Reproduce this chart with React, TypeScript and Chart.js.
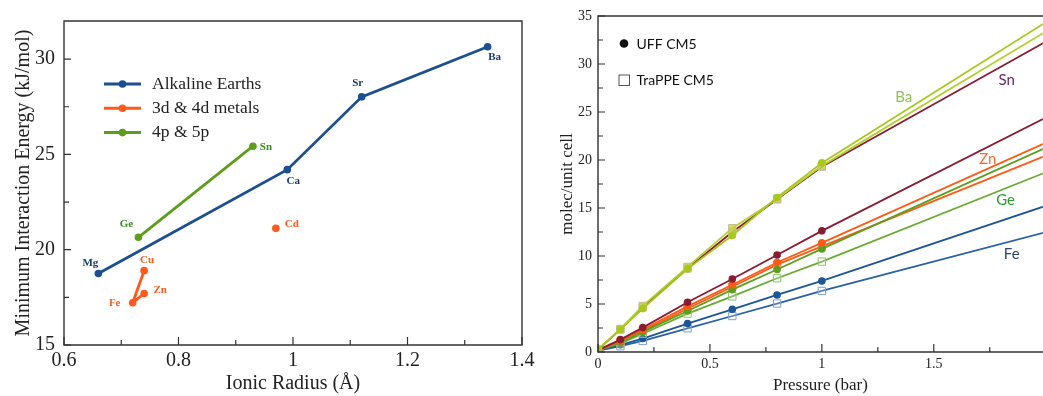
import React, { useEffect, useRef } from "react";
import { Chart, registerables } from "chart.js";
Chart.register(...registerables);

const SERIF = '"Liberation Serif", "Times New Roman", serif';
const SANS = 'Lato, "Open Sans", sans-serif';

// ---------- Left panel data ----------
const ALK_NAMES = ["Mg", "Ca", "Sr", "Ba"];
const ALK_RADIUS = [0.66, 0.99, 1.12, 1.34];
const ALK_ENERGY = [18.75, 24.2, 28.02, 30.65];

const TM_NAMES = ["Cu", "Fe", "Zn", "Cd"];
const TM_RADIUS = [0.74, 0.72, 0.74, 0.97];
const TM_ENERGY = [18.9, 17.22, 17.7, 21.12];
const TM_CONNECTED = 3; // first three joined, Cd stands alone

const P_NAMES = ["Ge", "Sn"];
const P_RADIUS = [0.73, 0.93];
const P_ENERGY = [20.65, 25.43];

const LEFT_X_TICKS = [0.6, 0.8, 1.0, 1.2, 1.4];
const LEFT_X_MINOR = [0.7, 0.9, 1.1, 1.3];
const LEFT_Y_TICKS = [15, 20, 25, 30];
const LEFT_Y_MINOR = [17.5, 22.5, 27.5];

// ---------- Right panel data ----------
const PRESSURE = [0, 0.1, 0.2, 0.4, 0.6, 0.8, 1.0, 2.0];
const MARKED_POINTS = 7; // markers only up to 1 bar
const BA_UFF = [0.25, 2.33, 4.52, 8.66, 12.13, 16.09, 19.7, 34.35];
const BA_TRAPPE = [0.3, 2.4, 4.8, 8.86, 12.9, 15.95, 19.39, 33.37];
const SN_TRAPPE = [0.25, 2.35, 4.65, 8.7, 12.5, 15.9, 19.3, 32.32];
const SN_UFF = [0.2, 1.29, 2.54, 5.18, 7.61, 10.11, 12.62, 24.41];
const ZN_UFF = [0.2, 1.15, 2.35, 4.75, 7.0, 9.32, 11.37, 21.79];
const ZN_TRAPPE = [0.2, 1.05, 2.2, 4.5, 6.8, 9.1, 11.0, 20.45];
const GE_UFF = [0.2, 1.0, 2.1, 4.27, 6.5, 8.59, 10.74, 21.27];
const GE_TRAPPE = [0.2, 0.9, 1.9, 4.0, 5.8, 7.68, 9.42, 18.72];
const FE_UFF = [0.15, 0.75, 1.4, 2.96, 4.45, 5.94, 7.4, 15.22];
const FE_TRAPPE = [0.15, 0.6, 1.15, 2.47, 3.75, 5.05, 6.36, 12.49];

const RIGHT_X_TICKS = [0, 0.5, 1, 1.5];
const RIGHT_X_MINOR = [0.25, 0.75, 1.25, 1.75];
const RIGHT_Y_TICKS = [0, 5, 10, 15, 20, 25, 30, 35];
const RIGHT_Y_MINOR = [2.5, 7.5, 12.5, 17.5, 22.5, 27.5, 32.5];

const RIGHT_LABELS = ["Ba", "Sn", "Zn", "Ge", "Fe"];
const RIGHT_LABEL_P = [1.366, 1.826, 1.741, 1.821, 1.848];
const RIGHT_LABEL_N = [26.55, 28.3, 20.1, 15.8, 10.2];

// ---------- styles ----------
const BLUE = "#1c4f8f";
const ORANGE = "#ff5a1c";
const GREEN = "#5c9e1c";

const LEFT_LABEL_COLOR: Record<string, string> = {
  Mg: "#1a3a6a", Ca: "#1a3a6a", Sr: "#1a3a6a", Ba: "#1a3a6a",
  Cu: ORANGE, Fe: ORANGE, Zn: ORANGE, Cd: ORANGE,
  Ge: "#3a8a1a", Sn: "#3a8a1a",
};
const LEFT_LABEL_OFFSET: Record<string, [number, number]> = {
  Mg: [-8, -10], Ca: [6, 11], Sr: [-4, -14], Ba: [7, 10],
  Cu: [3, -11], Fe: [-18, 0], Zn: [16, -3], Cd: [16, -4],
  Ge: [-12, -13], Sn: [13, 1],
};
const RIGHT_LABEL_COLOR = ["#8cc152", "#6b1f6b", "#ff6a2a", "#2f9a2f", "#2c4670"];

const RIGHT_CANVAS_W = 504; // a few px run past the window edge, as the reference is cropped there

function frameTicks(xMaj: number[], xMin: number[], yMaj: number[], yMin: number[], full: boolean) {
  return {
    id: "frameTicks",
    afterDatasetsDraw(chart: any) {
      const { ctx, chartArea: a, scales } = chart;
      ctx.save();
      ctx.strokeStyle = "#333";
      ctx.lineWidth = 1.4;
      ctx.beginPath();
      if (full) {
        ctx.rect(a.left, a.top, a.right - a.left, a.bottom - a.top);
      } else {
        ctx.moveTo(a.right + 5, a.top);
        ctx.lineTo(a.left, a.top);
        ctx.lineTo(a.left, a.bottom);
        ctx.lineTo(a.right + 5, a.bottom);
      }
      ctx.stroke();
      ctx.lineWidth = 1.2;
      ctx.beginPath();
      const xs = (vals: number[], len: number) =>
        vals.forEach((v) => {
          const p = scales.x.getPixelForValue(v);
          ctx.moveTo(p, a.bottom);
          ctx.lineTo(p, a.bottom - len);
        });
      const ys = (vals: number[], len: number) =>
        vals.forEach((v) => {
          const p = scales.y.getPixelForValue(v);
          ctx.moveTo(a.left, p);
          ctx.lineTo(a.left + len, p);
        });
      xs(xMaj, 8);
      xs(xMin, 5);
      ys(yMaj, 7);
      ys(yMin, 5);
      ctx.stroke();
      ctx.restore();
    },
  };
}

function axis(
  min: number, max: number, ticks: number[], size: number, pad: number,
  title: string, titleSize: number, titlePad: number, horizontal: boolean, fit: number
) {
  return {
    type: "linear",
    min,
    max,
    grid: { display: false, drawTicks: false },
    border: { display: false },
    afterBuildTicks: (s: any) => {
      s.ticks = ticks.map((v) => ({ value: v }));
    },
    afterFit: (s: any) => {
      if (horizontal) s.height = fit;
      else s.width = fit;
    },
    ticks: {
      font: { family: SERIF, size },
      color: "#222",
      padding: pad,
      maxRotation: 0,
      autoSkip: false,
      callback: (v: number) => String(Number(Number(v).toFixed(2))),
    },
    title: {
      display: true,
      text: title,
      font: { family: SERIF, size: titleSize },
      color: "#222",
      padding: { top: titlePad, bottom: 0 },
    },
  };
}

function pts(xs: number[], ys: number[]) {
  return xs.map((x, i) => ({ x, y: ys[i] }));
}

export default function App() {
  const leftRef = useRef<HTMLCanvasElement>(null);
  const rightRef = useRef<HTMLCanvasElement>(null);

  useEffect(() => {
    const tmData: any[] = pts(TM_RADIUS.slice(0, TM_CONNECTED), TM_ENERGY.slice(0, TM_CONNECTED));
    tmData.push({ x: 0.85, y: null });
    tmData.push(...pts(TM_RADIUS.slice(TM_CONNECTED), TM_ENERGY.slice(TM_CONNECTED)));
    const tmNames = [...TM_NAMES.slice(0, TM_CONNECTED), "", ...TM_NAMES.slice(TM_CONNECTED)];

    const leftSets = [
      { label: "Alkaline Earths", data: pts(ALK_RADIUS, ALK_ENERGY), color: BLUE, names: ALK_NAMES },
      { label: "3d & 4d metals", data: tmData, color: ORANGE, names: tmNames },
      { label: "4p & 5p", data: pts(P_RADIUS, P_ENERGY), color: GREEN, names: P_NAMES },
    ];

    const leftPlugin = {
      id: "leftDecor",
      afterDraw(chart: any) {
        const { ctx, scales } = chart;
        ctx.save();
        ctx.font = `bold 11px ${SERIF}`;
        ctx.textAlign = "center";
        ctx.textBaseline = "middle";
        leftSets.forEach((s) => {
          s.data.forEach((p: any, i: number) => {
            const n = s.names[i];
            if (!n || p.y == null) return;
            const off = LEFT_LABEL_OFFSET[n];
            ctx.fillStyle = LEFT_LABEL_COLOR[n];
            ctx.fillText(n, scales.x.getPixelForValue(p.x) + off[0], scales.y.getPixelForValue(p.y) + off[1]);
          });
        });
        ctx.font = `17.5px ${SERIF}`;
        ctx.textAlign = "left";
        leftSets.forEach((s, i) => {
          const y = 84 + i * 24.3;
          ctx.strokeStyle = s.color;
          ctx.lineWidth = 3;
          ctx.beginPath();
          ctx.moveTo(104, y);
          ctx.lineTo(141, y);
          ctx.stroke();
          ctx.fillStyle = s.color;
          ctx.beginPath();
          ctx.arc(122.5, y, 3.8, 0, Math.PI * 2);
          ctx.fill();
          ctx.fillStyle = "#222";
          ctx.fillText(s.label, 152, y);
        });
        ctx.restore();
      },
    };

    const left = new Chart(leftRef.current!, {
      type: "scatter",
      data: {
        datasets: leftSets.map((s) => ({
          label: s.label,
          data: s.data,
          showLine: true,
          borderColor: s.color,
          backgroundColor: s.color,
          borderWidth: 2.8,
          pointRadius: 3.8,
          pointBorderWidth: 0,
          spanGaps: false,
        })),
      } as any,
      options: {
        animation: false,
        responsive: false,
        layout: { padding: { left: 0, top: 16, right: 23, bottom: 0 } },
        plugins: { legend: { display: false }, tooltip: { enabled: false } },
        scales: {
          x: axis(0.6, 1.4, LEFT_X_TICKS, 20, 4, "Ionic Radius (Å)", 20, 0, true, 51),
          y: axis(15, 32, LEFT_Y_TICKS, 20, 9, "Minimum Interaction Energy (kJ/mol)", 20, 12, false, 64),
        } as any,
      },
      plugins: [frameTicks(LEFT_X_TICKS, LEFT_X_MINOR, LEFT_Y_TICKS, LEFT_Y_MINOR, true), leftPlugin],
    });

    const rightSeries = [
      { label: "Ba UFF CM5", values: BA_UFF, color: "#a6c91c", style: "circle", fill: "#a6c91c", border: "#a6c91c" },
      { label: "Ba TraPPE CM5", values: BA_TRAPPE, color: "#b3d12e", style: "rect", fill: "rgba(190,214,60,0.75)", border: "#cdb88e" },
      { label: "Sn TraPPE CM5", values: SN_TRAPPE, color: "#8a1c32", style: "rect", fill: "rgba(220,190,170,0.4)", border: "#d6b4a4" },
      { label: "Sn UFF CM5", values: SN_UFF, color: "#8a1c32", style: "circle", fill: "#8a1c32", border: "#8a1c32" },
      { label: "Zn UFF CM5", values: ZN_UFF, color: "#ff5a14", style: "circle", fill: "#ff5a14", border: "#ff5a14" },
      { label: "Ge UFF CM5", values: GE_UFF, color: "#5c9e1e", style: "circle", fill: "#5c9e1e", border: "#5c9e1e" },
      { label: "Zn TraPPE CM5", values: ZN_TRAPPE, color: "#ff5a14", style: "rect", fill: "rgba(255,140,90,0.5)", border: "#ff8a5a" },
      { label: "Ge TraPPE CM5", values: GE_TRAPPE, color: "#6aab34", style: "rect", fill: "rgba(255,255,255,0.2)", border: "#8fc46c" },
      { label: "Fe UFF CM5", values: FE_UFF, color: "#1c5696", style: "circle", fill: "#1c5696", border: "#1c5696" },
      { label: "Fe TraPPE CM5", values: FE_TRAPPE, color: "#2a61a4", style: "rect", fill: "rgba(255,255,255,0.2)", border: "#7b9fd0" },
    ];

    const rightPlugin = {
      id: "rightDecor",
      afterDraw(chart: any) {
        const { ctx, scales } = chart;
        ctx.save();
        ctx.textBaseline = "middle";
        ctx.textAlign = "center";
        ctx.font = `15px ${SANS}`;
        RIGHT_LABELS.forEach((n, i) => {
          ctx.fillStyle = RIGHT_LABEL_COLOR[i];
          ctx.fillText(n, scales.x.getPixelForValue(RIGHT_LABEL_P[i]), scales.y.getPixelForValue(RIGHT_LABEL_N[i]));
        });
        const lx = 624 - 545;
        ctx.fillStyle = "#111";
        ctx.beginPath();
        ctx.arc(lx, 43.5, 4.3, 0, Math.PI * 2);
        ctx.fill();
        ctx.strokeStyle = "#555";
        ctx.lineWidth = 1;
        ctx.strokeRect(lx - 5, 75, 10.5, 10.5);
        ctx.fillStyle = "#111";
        ctx.textAlign = "left";
        ctx.font = `14px ${SANS}`;
        ctx.fillText("UFF CM5", 636.5 - 545, 44);
        ctx.fillText("TraPPE CM5", 636.5 - 545, 80.5);
        ctx.restore();
      },
    };

    const right = new Chart(rightRef.current!, {
      type: "scatter",
      data: {
        datasets: rightSeries.map((s) => ({
          label: s.label,
          data: pts(PRESSURE, s.values),
          showLine: true,
          borderColor: s.color,
          borderWidth: 1.8,
          pointStyle: s.style,
          pointRadius: PRESSURE.map((_, i) => (i < MARKED_POINTS ? (s.style === "rect" ? 5.2 : 3.8) : 0)),
          pointBackgroundColor: s.fill,
          pointBorderColor: s.border,
          pointBorderWidth: s.style === "rect" ? 1 : 0,
        })),
      } as any,
      options: {
        animation: false,
        responsive: false,
        layout: { padding: { left: 0, top: 16, right: 0, bottom: 0 } },
        plugins: { legend: { display: false }, tooltip: { enabled: false } },
        scales: {
          x: axis(0, 1.987, RIGHT_X_TICKS, 14, 4, "Pressure (bar)", 17, 0, true, 44),
          y: axis(0, 35, RIGHT_Y_TICKS, 14, 6, "molec/unit cell", 17, 12, false, 53),
        } as any,
      },
      plugins: [frameTicks(RIGHT_X_TICKS, RIGHT_X_MINOR, RIGHT_Y_TICKS, RIGHT_Y_MINOR, false), rightPlugin],
    });

    return () => {
      left.destroy();
      right.destroy();
    };
  }, []);

  return (
    <div style={{ position: "absolute", left: 0, top: 0, width: 1043, height: 396, background: "#fff", overflow: "hidden" }}>
      <canvas ref={leftRef} width={545} height={396} style={{ position: "absolute", left: 0, top: 0, width: 545, height: 396 }} />
      <canvas
        ref={rightRef}
        width={RIGHT_CANVAS_W}
        height={396}
        style={{ position: "absolute", left: 545, top: 0, width: RIGHT_CANVAS_W, height: 396 }}
      />
    </div>
  );
}
